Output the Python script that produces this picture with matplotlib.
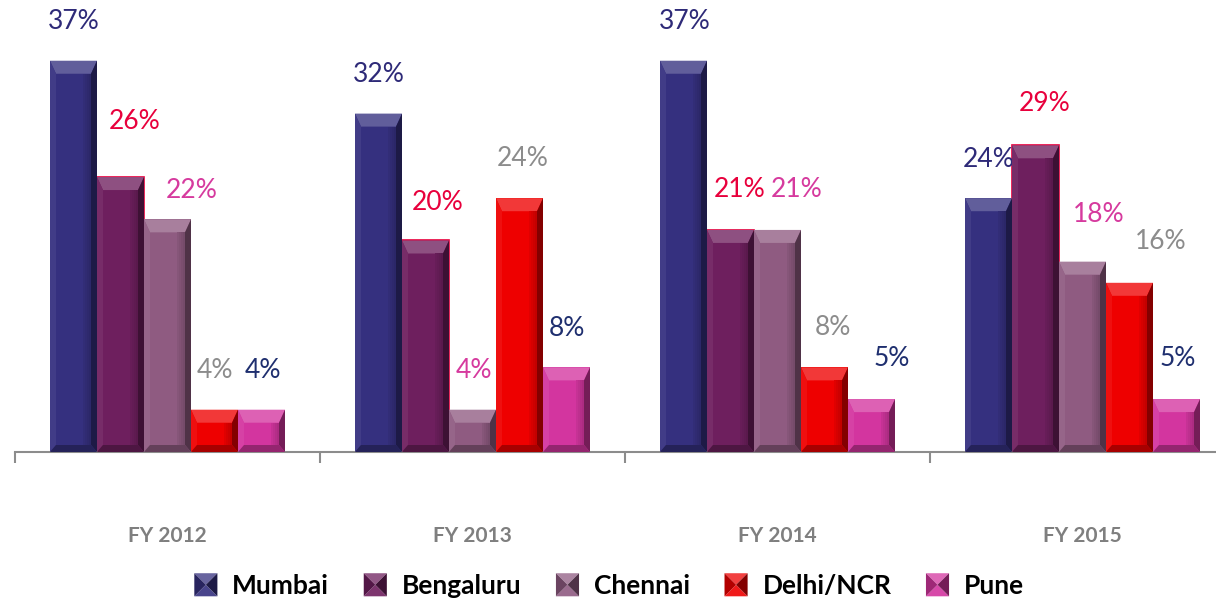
import numpy as np
import matplotlib.pyplot as plt
from matplotlib.patches import Polygon, Patch
from matplotlib.legend_handler import HandlerBase
from matplotlib.colors import to_rgb

years = ["FY 2012", "FY 2013", "FY 2014", "FY 2015"]
cities = ["Mumbai", "Bengaluru", "Chennai", "Delhi/NCR", "Pune"]
mumbai = [37, 32, 37, 24]
bengaluru = [26, 20, 21, 29]
chennai = [22, 4, 21, 18]
delhi = [4, 24, 8, 16]
pune = [4, 8, 5, 5]
series = [mumbai, bengaluru, chennai, delhi, pune]

bar_colors = ["#35307f", "#6e1f5e", "#8f5b81", "#ee0000", "#d3359f"]
text_colors = ["#2e2a78", "#e8003c", "#d63a9e", "#8c8c8c", "#1f2f6f"]

# label nudges in pixels (dx, dy), on top of the standard gap above each bar
nudges = [
    [(0, 0), (0, 0), (1, 0), (0, 0)],
    [(14, 17), (12, -1), (9, 1), (9, 3)],
    [(24, -10), (1, 0), (19, 1), (16, 8)],
    [(0, 0), (3, 1), (8, 1), (31, 2)],
    [(1, 0), (0, 0), (20, 2), (1, 2)],
]

plt.rcParams['font.family'] = ['Lato', 'DejaVu Sans']

W, H = 1216, 606
fig = plt.figure(figsize=(W / 100, H / 100), dpi=100)
ax = fig.add_axes([15 / W, (H - 452) / H, 1201 / W, 423 / H])

group_px = 305.0
px_x = 1 / group_px          # data units per pixel, x
px_y = 40 / 423.0            # data units per pixel, y
ax.set_xlim(-0.5, -0.5 + 1201 / group_px)
ax.set_ylim(0, 40)


def mix(c, other, t):
    c = np.array(to_rgb(c))
    return tuple(c * (1 - t) + np.array(other) * t)


def bevel(ax, x0, w, h, color):
    # light top facet, shaded sides and bottom on top of the flat face
    x1 = x0 + w
    s = 6 * px_x
    t = min(13 * px_y, h * 0.35)
    b = min(7 * px_y, h * 0.2)
    facets = [
        ([(x0, h), (x1, h), (x1 - s, h - t), (x0 + s, h - t)], mix(color, (1, 1, 1), 0.22)),
        ([(x0, 0), (x0, h), (x0 + s, h - t), (x0 + s, b)], mix(color, (1, 1, 1), 0.06)),
        ([(x1, 0), (x1, h), (x1 - s, h - t), (x1 - s, b)], mix(color, (0, 0, 0), 0.45)),
        ([(x0, 0), (x1, 0), (x1 - s, b), (x0 + s, b)], mix(color, (0, 0, 0), 0.3)),
    ]
    for pts, fc in facets:
        ax.add_patch(Polygon(pts, closed=True, fc=fc, ec='none', zorder=3))
    # soft dark gradient along the right edge
    for k in range(4):
        xs = x1 - s - (k + 1) * 2 * px_x
        ax.add_patch(Polygon([(xs, b), (xs + 2 * px_x, b), (xs + 2 * px_x, h - t), (xs, h - t)],
                             closed=True, fc=mix(color, (0, 0, 0), 0.18 - k * 0.04),
                             ec='none', zorder=3))


bw = 47 * px_x
x = np.arange(len(years))
for i, (vals, col) in enumerate(zip(series, bar_colors)):
    xs = x + (i - 2) * bw
    ec = "#e8003c" if i == 1 else 'none'
    bars = ax.bar(xs, vals, width=bw, color=col, edgecolor=ec, linewidth=1.2, zorder=2)
    for rect, v, (dx, dy) in zip(bars, vals, nudges[i]):
        bevel(ax, rect.get_x(), rect.get_width(), rect.get_height(), col)
        ax.annotate(f"{v}%", (rect.get_x() + rect.get_width() / 2, v),
                    xytext=(dx, 39 + dy), textcoords='offset pixels',
                    ha='center', va='center', fontsize=19, color=text_colors[i],
                    annotation_clip=False)

for side in ['top', 'right', 'left']:
    ax.spines[side].set_visible(False)
ax.spines['bottom'].set_color('#8c8c8c')
ax.spines['bottom'].set_linewidth(1.5)
ax.set_yticks([])
ax.set_xticks(np.arange(len(years)) - 0.5)
ax.set_xticklabels([])
ax.tick_params(axis='x', length=8, width=1.5, color='#8c8c8c', direction='out')

for xi, yr in zip(x, years):
    ax.text(xi, -(536 - 452) / 423, yr, transform=ax.get_xaxis_transform(),
            ha='center', va='center', fontsize=15, fontweight='bold', color='#7f7f7f')


class BevelIcon(HandlerBase):
    def create_artists(self, legend, orig_handle, xdescent, ydescent,
                       width, height, fontsize, trans):
        col = orig_handle.get_facecolor()
        sz = height * 1.25
        x0 = width / 2 - sz / 2 - xdescent
        y0 = height / 2 - sz / 2 - ydescent
        cx, cy = x0 + sz / 2, y0 + sz / 2
        x1, y1 = x0 + sz, y0 + sz
        tris = [
            ([(x0, y1), (x1, y1), (cx, cy)], mix(col[:3], (1, 1, 1), 0.25)),
            ([(x0, y0), (x1, y0), (cx, cy)], mix(col[:3], (1, 1, 1), 0.1)),
            ([(x0, y0), (x0, y1), (cx, cy)], mix(col[:3], (0, 0, 0), 0.25)),
            ([(x1, y0), (x1, y1), (cx, cy)], mix(col[:3], (0, 0, 0), 0.45)),
        ]
        arts = []
        for pts, fc in tris:
            p = Polygon(pts, closed=True, fc=fc, ec='none', transform=trans)
            arts.append(p)
        return arts


handles = [Patch(facecolor=c, label=n) for c, n in zip(bar_colors, cities)]
fig.legend(handles=handles, loc='center', bbox_to_anchor=(609 / W, 1 - 586 / H),
           ncol=5, frameon=False, handler_map={Patch: BevelIcon()},
           prop={'weight': 'bold', 'size': 19}, handlelength=0.9,
           handletextpad=0.55, columnspacing=1.3)

fig.savefig("out.png", dpi=100)
